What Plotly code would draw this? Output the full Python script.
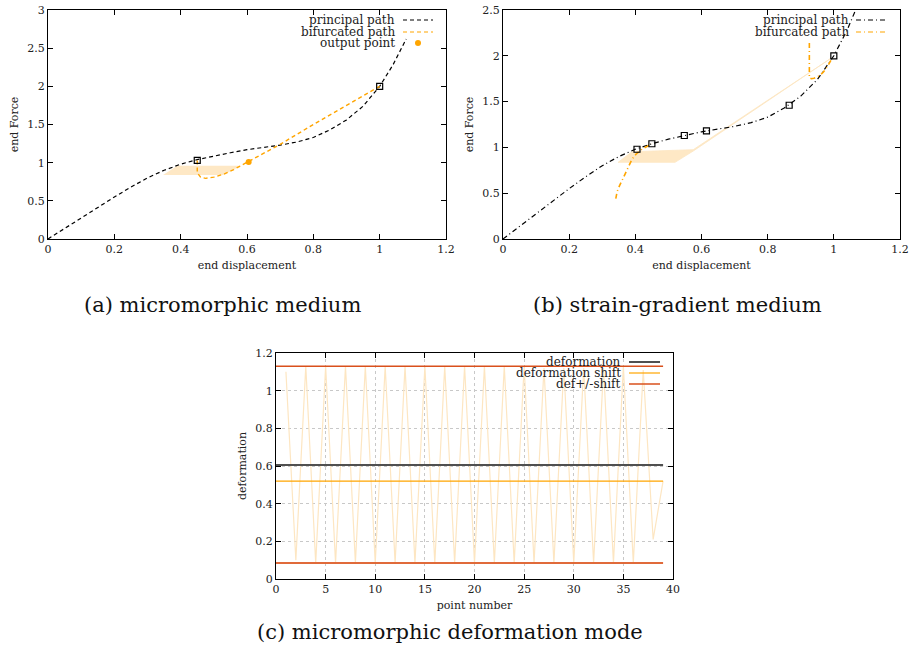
import plotly.graph_objects as go

# ---------------- data ----------------
# principal path (shared by (a) and (b))
principal_x = [0, 0.05, 0.1, 0.15, 0.2, 0.25, 0.3, 0.35, 0.4, 0.45, 0.5, 0.55, 0.6, 0.65,
               0.7, 0.75, 0.8, 0.85, 0.9, 0.95, 1.0, 1.04, 1.08]
principal_y = [0, 0.14, 0.28, 0.42, 0.55, 0.68, 0.8, 0.9, 0.98, 1.04, 1.09, 1.13, 1.17, 1.2,
               1.23, 1.27, 1.33, 1.43, 1.56, 1.74, 2.0, 2.28, 2.62]

# (a) micromorphic
a_bif_x = [0.45, 0.45, 0.46, 0.475, 0.5, 0.53, 0.56, 0.6, 0.65, 0.7, 0.8, 0.9, 1.0]
a_bif_y = [1.03, 0.87, 0.81, 0.795, 0.81, 0.85, 0.91, 1.005, 1.12, 1.24, 1.5, 1.75, 2.0]
a_sq_x = [0.45, 1.0]
a_sq_y = [1.03, 2.0]
a_out_x = [0.605]
a_out_y = [1.01]
a_band_x = [0.347, 0.528, 0.583, 0.39, 0.347]
a_band_y = [0.84, 0.84, 0.96, 0.96, 0.84]

# (b) strain-gradient
b_bif_x = [0.341, 0.345, 0.352, 0.36, 0.37, 0.38, 0.39, 0.403, 0.42, 0.435, 0.449, None,
           0.926, 0.926, 0.932, 0.94, 0.955, 0.968, 0.982, 0.994]
b_bif_y = [0.44, 0.52, 0.58, 0.64, 0.72, 0.8, 0.87, 0.93, 0.98, 1.01, 1.04, None,
           2.14, 1.76, 1.75, 1.755, 1.78, 1.82, 1.89, 1.97]
b_sq_x = [0.405, 0.45, 0.548, 0.615, 0.865, 1.0]
b_sq_y = [0.98, 1.04, 1.13, 1.18, 1.46, 2.0]
b_band_x = [0.348, 0.52, 0.575, 0.99, 0.575, 0.39, 0.348]
b_band_y = [0.837, 0.837, 0.96, 1.97, 0.975, 0.953, 0.837]

# (c) deformation mode
point_number = list(range(40))
deformation = [0.605] * 40
deformation_shift_mean = [0.52] * 40
def_plus = [1.13] * 40
def_minus = [0.085] * 40
zig_n = list(range(1, 40))
zig_val = [1.10, 0.10, 1.13, 0.085, 1.13, 0.085, 1.13, 0.085, 1.13, 0.085,
           1.13, 0.085, 1.13, 0.085, 1.13, 0.085, 1.13, 0.085, 1.13, 0.085,
           1.13, 0.085, 1.13, 0.085, 1.13, 0.085, 1.12, 0.085, 1.12, 0.085,
           1.12, 0.085, 1.12, 0.085, 1.13, 0.085, 1.11, 0.21, 0.52]

# ---------------- style ----------------
FONT = "DejaVu Serif"
W, H = 914, 661
ORANGE = "#ffa500"
BAND = "rgba(253,222,172,0.7)"
LIGHT = "#fde6c2"

fig = go.Figure()

# (a)
fig.add_trace(go.Scatter(x=a_band_x, y=a_band_y, fill="toself", fillcolor=BAND,
                         line=dict(width=0), mode="lines", xaxis="x", yaxis="y", hoverinfo="skip"))
fig.add_trace(go.Scatter(x=principal_x, y=principal_y, mode="lines",
                         line=dict(color="black", width=1.2, dash="4px,3px"), xaxis="x", yaxis="y"))
fig.add_trace(go.Scatter(x=a_bif_x, y=a_bif_y, mode="lines",
                         line=dict(color=ORANGE, width=1.4, dash="4px,3px"), xaxis="x", yaxis="y"))
fig.add_trace(go.Scatter(x=a_sq_x, y=a_sq_y, mode="markers",
                         marker=dict(symbol="square-open", size=6, color="black", line=dict(width=1.2)),
                         xaxis="x", yaxis="y"))
fig.add_trace(go.Scatter(x=a_out_x, y=a_out_y, mode="markers",
                         marker=dict(symbol="circle", size=6, color=ORANGE), xaxis="x", yaxis="y"))

# (b)
fig.add_trace(go.Scatter(x=b_band_x, y=b_band_y, fill="toself", fillcolor=BAND,
                         line=dict(width=0.8, color=LIGHT), mode="lines", xaxis="x2", yaxis="y2",
                         hoverinfo="skip"))
fig.add_trace(go.Scatter(x=principal_x, y=principal_y, mode="lines",
                         line=dict(color="black", width=1.2, dash="5px,3px,1px,3px"), xaxis="x2", yaxis="y2"))
fig.add_trace(go.Scatter(x=b_bif_x, y=b_bif_y, mode="lines",
                         line=dict(color=ORANGE, width=1.6, dash="5px,3px,1px,3px"), xaxis="x2", yaxis="y2"))
fig.add_trace(go.Scatter(x=b_sq_x, y=b_sq_y, mode="markers",
                         marker=dict(symbol="square-open", size=6, color="black", line=dict(width=1.2)),
                         xaxis="x2", yaxis="y2"))

# (c)
fig.add_trace(go.Scatter(x=zig_n, y=zig_val, mode="lines",
                         line=dict(color=LIGHT, width=1.2), xaxis="x3", yaxis="y3"))
fig.add_trace(go.Scatter(x=point_number, y=deformation, mode="lines",
                         line=dict(color="#505050", width=2), xaxis="x3", yaxis="y3"))
fig.add_trace(go.Scatter(x=point_number, y=deformation_shift_mean, mode="lines",
                         line=dict(color=ORANGE, width=1.2), xaxis="x3", yaxis="y3"))
fig.add_trace(go.Scatter(x=point_number, y=def_plus, mode="lines",
                         line=dict(color="#d9501c", width=1.5), xaxis="x3", yaxis="y3"))
fig.add_trace(go.Scatter(x=point_number, y=def_minus, mode="lines",
                         line=dict(color="#e06a3a", width=1.8), xaxis="x3", yaxis="y3"))

tickfont = dict(family=FONT, size=11, color="#222")
titlefont = dict(family=FONT, size=11, color="#222")


def ax(domain, rng, dtick, anchor, title, grid=False, standoff=6):
    return dict(domain=domain, range=rng, dtick=dtick, tick0=0, anchor=anchor,
                showline=True, mirror="ticks", linecolor="black", linewidth=1,
                ticks="inside", ticklen=5, tickcolor="black", tickwidth=1,
                showgrid=grid, gridcolor="#c8c8c8", griddash="dot", gridwidth=1,
                zeroline=False, tickfont=tickfont, automargin=False,
                ticklabeloverflow="allow",
                title=dict(text=title, font=titlefont, standoff=standoff))


def px(x):
    return x / W


def py(y):
    return 1 - y / H


fig.update_layout(
    width=W, height=H, margin=dict(l=0, r=0, t=0, b=0, autoexpand=False),
    paper_bgcolor="white", plot_bgcolor="white", showlegend=False,
    xaxis=ax([px(48), px(446)], [0, 1.2], 0.2, "y", "end displacement"),
    yaxis=ax([py(239), py(10)], [0, 3], 0.5, "x", "end Force"),
    xaxis2=ax([px(503), px(900)], [0, 1.2], 0.2, "y2", "end displacement"),
    yaxis2=ax([py(239), py(10)], [0, 2.5], 0.5, "x2", "end Force"),
    xaxis3=ax([px(276), px(673)], [0, 40], 5, "y3", "point number", grid=True),
    yaxis3=ax([py(579), py(353)], [0, 1.2], 0.2, "x3", "deformation", grid=True),
)

annotations = []
shapes = []


def legend_item(text, xr, x0, x1, y, style):
    annotations.append(dict(text=text, x=px(xr), y=py(y), xref="paper", yref="paper",
                            xanchor="right", yanchor="middle", showarrow=False,
                            font=dict(family=FONT, size=12, color="#222")))
    if style.get("dot"):
        xc = (x0 + x1) / 2
        shapes.append(dict(type="circle", xref="paper", yref="paper",
                           x0=px(xc - 3), x1=px(xc + 3), y0=py(y + 3), y1=py(y - 3),
                           fillcolor=style["color"], line=dict(width=0)))
    else:
        shapes.append(dict(type="line", xref="paper", yref="paper",
                           x0=px(x0), x1=px(x1), y0=py(y), y1=py(y),
                           line=dict(color=style["color"], width=style.get("width", 1.2),
                                     dash=style.get("dash", "solid"))))


legend_item("principal path", 397, 403, 433, 20, dict(color="black", dash="4px,3px"))
legend_item("bifurcated path", 397, 403, 433, 32, dict(color=ORANGE, dash="4px,3px"))
legend_item("output point", 397, 403, 433, 43, dict(color=ORANGE, dot=True))

legend_item("principal path", 851, 856, 888, 20, dict(color="black", dash="5px,3px,1px,3px"))
legend_item("bifurcated path", 851, 856, 888, 32, dict(color=ORANGE, dash="5px,3px,1px,3px"))

legend_item("deformation", 623, 629, 660, 362, dict(color="#505050", width=2))
legend_item("deformation shift", 623, 629, 660, 373, dict(color=ORANGE))
legend_item("def+/-shift", 623, 629, 660, 384, dict(color="#d9501c", width=1.5))

captions = [("(a) micromorphic medium", 222, 305),
            ("(b) strain-gradient medium", 677, 305),
            ("(c) micromorphic deformation mode", 450, 632)]
for text, x, y in captions:
    annotations.append(dict(text=text, x=px(x), y=py(y), xref="paper", yref="paper",
                            xanchor="center", yanchor="middle", showarrow=False,
                            font=dict(family=FONT, size=21, color="#111")))

fig.update_layout(annotations=annotations, shapes=shapes)
fig.write_html("out.html",
               config={"displayModeBar": False, "staticPlot": True},
               post_script="document.body.style.margin='0px';document.body.style.overflow='hidden';")
